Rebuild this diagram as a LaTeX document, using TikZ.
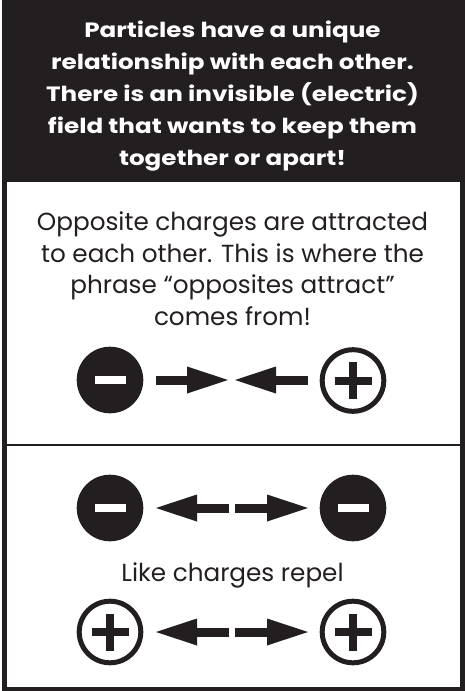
\documentclass[tikz,border=0pt]{standalone}
\usepackage{fontspec}
\setmainfont{Poppins}
\newfontfamily\hdrfont[FakeStretch=1.19]{Poppins}
\usetikzlibrary{arrows.meta}
\definecolor{ink}{HTML}{231F20}
\tikzset{
  hdr/.style={anchor=base, text=white, inner sep=0pt, font=\hdrfont\bfseries\fontsize{20.7}{24}\selectfont},
  body/.style={anchor=base, text=ink, inner sep=0pt, font=\fontsize{24.7}{28}\selectfont},
  negcharge/.style={circle, fill=ink, minimum size=66.6pt, inner sep=0pt},
  poscharge/.style={circle, draw=ink, fill=white, line width=5pt, minimum size=61.6pt, inner sep=0pt},
  arr/.style={draw=ink, line width=9pt, -{Triangle[length=41pt,width=27pt,line width=0pt]}},
}
\newcommand{\minusbar}[1]{\fill[white] ([xshift=-15.5pt,yshift=-4pt]#1.center) rectangle ([xshift=15.5pt,yshift=4pt]#1.center);}
\newcommand{\plusbar}[1]{\fill[ink] ([xshift=-18.5pt,yshift=-4pt]#1.center) rectangle ([xshift=18.5pt,yshift=4pt]#1.center);
  \fill[ink] ([xshift=-4pt,yshift=-18.5pt]#1.center) rectangle ([xshift=4pt,yshift=18.5pt]#1.center);}
\begin{document}
\begin{tikzpicture}[x=1pt,y=-1pt]
\useasboundingbox (0,0) rectangle (465,691);
\fill[white] (0,0) rectangle (465,691);
\fill[ink] (2,0) rectangle (465,691);
\fill[white] (7,182) rectangle (459.5,443.5);
\fill[white] (7,446) rectangle (459.5,687.3);
% header
\node[hdr] (h1) at (232.5,37.7) {Particles have a unique};
\node[hdr] (h2) at (232.5,69.3) {relationship with each other.};
\node[hdr] (h3) at (232.5,101.3) {There is an invisible (electric)};
\node[hdr] (h4) at (232.5,133.3) {field that wants to keep them};
\node[hdr] (h5) at (232.5,165.3) {together or apart!};
% panel 1 text
\node[body] (t1) at (232.5,230.7) {Opposite charges are attracted};
\node[body] (t2) at (232.5,262) {to each other. This is where the};
\node[body] (t3) at (232.5,293.3) {phrase “opposites attract”};
\node[body] (t4) at (232.5,325) {comes from!};
% panel 1 charges
\node[negcharge] (a1) at (110,380) {};
\node[poscharge] (a2) at (353,380.5) {};
\minusbar{a1}
\plusbar{a2}
\coordinate (a1tip) at (228,380);
\coordinate (a2tip) at (235,380);
\draw[arr] ([xshift=12pt]a1.east |- a1tip) -- (a1tip);
\draw[arr] ([xshift=-12pt]a2.west |- a2tip) -- (a2tip);
% panel 2
\node[negcharge] (b1) at (110,508) {};
\node[negcharge] (b2) at (353,508) {};
\minusbar{b1}
\minusbar{b2}
\coordinate (b1tip) at (156,508);
\coordinate (b2tip) at (308,508);
\coordinate (b1s) at (229,508);
\coordinate (b2s) at (235,508);
\draw[arr] (b1s) -- (b1tip);
\draw[arr] (b2s) -- (b2tip);
\node[body] (t5) at (232.5,581.7) {Like charges repel};
\node[poscharge] (c1) at (110,632) {};
\node[poscharge] (c2) at (353,632) {};
\plusbar{c1}
\plusbar{c2}
\coordinate (c1tip) at (156,632);
\coordinate (c2tip) at (308,632);
\coordinate (c1s) at (229,632);
\coordinate (c2s) at (235,632);
\draw[arr] (c1s) -- (c1tip);
\draw[arr] (c2s) -- (c2tip);
\end{tikzpicture}
\end{document}
